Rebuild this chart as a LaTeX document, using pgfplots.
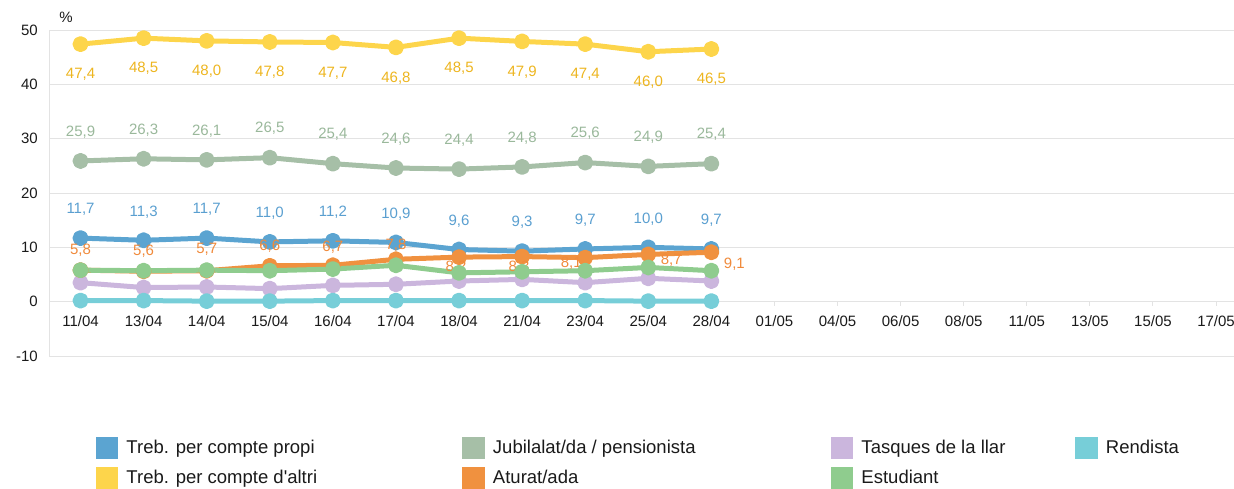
\documentclass[border=0pt]{standalone}
\usepackage{fontspec}
\setmainfont{Liberation Sans}
\usepackage{pgfplots}
\usepackage{pgfplotstable}
\pgfplotsset{compat=1.18}
\definecolor{cBlue}{HTML}{5BA4D1}
\definecolor{cYellow}{HTML}{FDD54B}
\definecolor{cGrey}{HTML}{A6BFA7}
\definecolor{cOrange}{HTML}{F0913F}
\definecolor{cLav}{HTML}{CBB6DD}
\definecolor{cGreen}{HTML}{8FCC8E}
\definecolor{cCyan}{HTML}{77CED8}
\definecolor{tYellow}{HTML}{EDB51F}
\definecolor{tGrey}{HTML}{9AB89B}
\definecolor{tBlue}{HTML}{5A9FD0}
\definecolor{tOrange}{HTML}{F08A3B}
\definecolor{gridc}{HTML}{E3E3E3}
\definecolor{txt}{HTML}{1A1A1A}

\pgfplotstableread{
x propi altri jubil tasques estud rend
0  11.7 47.4 25.9 3.5 5.8 0.2
1  11.3 48.5 26.3 2.6 5.7 0.2
2  11.7 48.0 26.1 2.7 5.8 0.1
3  11.0 47.8 26.5 2.4 5.7 0.1
4  11.2 47.7 25.4 3.0 6.0 0.2
5  10.9 46.8 24.6 3.2 6.7 0.2
6  9.6  48.5 24.4 3.8 5.3 0.2
7  9.3  47.9 24.8 4.1 5.5 0.2
8  9.7  47.4 25.6 3.5 5.7 0.2
9  10.0 46.0 24.9 4.3 6.3 0.1
10 9.7  46.5 25.4 3.8 5.7 0.1
}\data

\pgfplotstableread{
x aturat dx dy
0  5.8  0   20
1  5.6  0   20
2  5.7  0   21
3  6.6  0   20
4  6.7  0   18
5  7.8  0   14
6  8.2  -3  -10
7  8.3  -3  -11
8  8.1  -14 -6
9  8.7  23  -6
10 9.1  23  -12
}\datorange

\newcommand{\lblfont}{\fontsize{15}{18}\selectfont}

\begin{document}
\begin{tikzpicture}
\useasboundingbox (-49pt,-132pt) rectangle (1185pt,356pt);
\begin{axis}[
  scale only axis, width=1185pt, height=326pt,
  at={(0pt,0pt)}, anchor=south west,
  xmin=-0.5, xmax=18.285, ymin=-10, ymax=50,
  axis x line=middle, axis y line=left,
  hide obscured x ticks=false, hide obscured y ticks=false,
  axis line style={draw=gridc, line width=1pt, -},
  ytick={-10,0,10,20,30,40,50},
  ymajorgrids, grid style={draw=gridc, line width=1pt},
  xtick={0,...,18},
  xticklabels={11/04,13/04,14/04,15/04,16/04,17/04,18/04,21/04,23/04,25/04,28/04,01/05,04/05,06/05,08/05,11/05,13/05,15/05,17/05},
  tick align=outside, major tick length=4pt,
  xtick style={draw=gridc, line width=1pt},
  ytick style={draw=none},
  x tick label style={font=\lblfont, text=txt, anchor=north, inner sep=0pt, yshift=-10pt},
  y tick label style={font=\lblfont, text=txt, anchor=east, inner sep=0pt, xshift=-7pt},
  /pgf/number format/assume math mode=true,
  clip=false,
  legend columns=4,
  legend cell align=left,
  legend image code/.code={\fill[draw=none] (0pt,-11pt) rectangle (22.5pt,11pt);},
  legend style={draw=none, fill=none, inner sep=0pt, outer sep=0pt,
    font=\fontsize{18.5}{22}\selectfont, text=txt,
    at={(axis description cs:0.03966,-0.24847)}, anchor=north west,
    row sep=7.5pt, column sep=0pt,
    nodes={inner sep=0pt},
    /tikz/every odd column/.append style={column sep=8pt}},
  every axis plot/.append style={line width=5pt, line join=round, mark=*, mark size=5.5pt, mark options={draw=none}},
  nodes near coords={\pgfmathprintnumber[fixed,fixed zerofill,precision=1,use comma]{\pgfplotspointmeta}},
]
\node[font=\lblfont, text=txt] at (axis description cs:0.01435,1.0399) {\%};

\addplot[color=cBlue, every node near coord/.append style={font=\lblfont, text=tBlue, anchor=center, inner sep=0pt, yshift=28.5pt}] table[x=x,y=propi]{\data};
\addlegendentry{\makebox[336pt][l]{Treb. per compte propi}}

\addplot[color=cGrey, every node near coord/.append style={font=\lblfont, text=tGrey, anchor=center, inner sep=0pt, yshift=29pt}] table[x=x,y=jubil]{\data};
\addlegendentry{\makebox[338pt][l]{Jubilalat/da / pensionista}}

\addplot[color=cLav, nodes near coords={}] table[x=x,y=tasques]{\data};
\addlegendentry{\makebox[214pt][l]{Tasques de la llar}}

\addplot[color=cCyan, nodes near coords={}] table[x=x,y=rend]{\data};
\addlegendentry{Rendista}

\addplot[color=cYellow, every node near coord/.append style={font=\lblfont, text=tYellow, anchor=center, inner sep=0pt, yshift=-30.5pt}] table[x=x,y=altri]{\data};
\addlegendentry{Treb. per compte d\textquotesingle altri}

\addplot[color=cOrange,
  visualization depends on={\thisrow{dx}\as\ldx},
  visualization depends on={\thisrow{dy}\as\ldy},
  every node near coord/.append style={font=\lblfont, text=tOrange, anchor=center, inner sep=0pt, xshift=\ldx pt, yshift=\ldy pt}] table[x=x,y=aturat]{\datorange};
\addlegendentry{Aturat/ada}

\addplot[color=cGreen, nodes near coords={}] table[x=x,y=estud]{\data};
\addlegendentry{Estudiant}
\end{axis}
\end{tikzpicture}
\end{document}
